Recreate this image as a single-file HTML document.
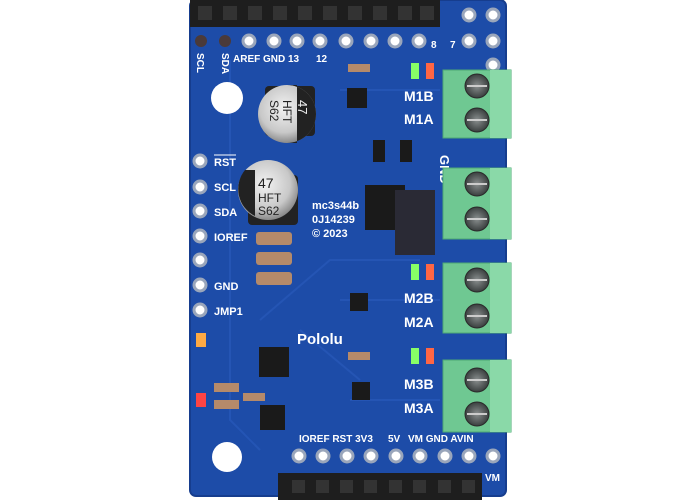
<!DOCTYPE html>
<html><head><style>
html,body{margin:0;padding:0;background:#fff;width:700px;height:500px;overflow:hidden}
text{font-family:"Liberation Sans",sans-serif;font-weight:bold;fill:#fff}
</style></head><body>
<svg width="700" height="500" viewBox="0 0 700 500">
<defs>
<radialGradient id="cap" cx="0.45" cy="0.4" r="0.6"><stop offset="0" stop-color="#f2f2f2"/><stop offset="0.7" stop-color="#c8c8c8"/><stop offset="1" stop-color="#8a8a8a"/></radialGradient>
<radialGradient id="scr" cx="0.5" cy="0.5" r="0.5"><stop offset="0" stop-color="#8a8f8f"/><stop offset="1" stop-color="#3a3f3f"/></radialGradient>
</defs>
<rect x="190" y="0" width="316" height="496" rx="6" fill="#1d4ca8"/>
<rect x="190" y="0" width="316" height="496" rx="6" fill="none" stroke="#163d8e" stroke-width="2"/>
<g stroke="#2758b8" stroke-width="2" fill="none" opacity="0.8">
<path d="M230 60 L230 420 L260 450"/><path d="M340 90 L440 90"/><path d="M340 300 L440 300"/><path d="M350 400 L440 400"/><path d="M260 320 L330 260 L420 260"/><path d="M300 330 L360 380"/>
</g>
<rect x="190" y="0" width="250" height="27" fill="#1e1e1e"/>
<g fill="#333">
<rect x="198" y="6" width="14" height="14"/><rect x="223" y="6" width="14" height="14"/><rect x="248" y="6" width="14" height="14"/><rect x="273" y="6" width="14" height="14"/><rect x="298" y="6" width="14" height="14"/><rect x="323" y="6" width="14" height="14"/><rect x="348" y="6" width="14" height="14"/><rect x="373" y="6" width="14" height="14"/><rect x="398" y="6" width="14" height="14"/><rect x="420" y="6" width="14" height="14"/>
</g>
<g fill="#fff" stroke="#9aa6bb" stroke-width="3">
<circle cx="249" cy="41" r="6"/><circle cx="274" cy="41" r="6"/><circle cx="297" cy="41" r="6"/><circle cx="320" cy="41" r="6"/><circle cx="346" cy="41" r="6"/><circle cx="371" cy="41" r="6"/><circle cx="395" cy="41" r="6"/><circle cx="419" cy="41" r="6"/><circle cx="469" cy="41" r="6"/><circle cx="493" cy="41" r="6"/><circle cx="469" cy="15" r="6"/><circle cx="493" cy="15" r="6"/><circle cx="493" cy="65" r="6"/>
</g>
<circle cx="201" cy="41" r="6" fill="#4a3a3a"/><circle cx="225" cy="41" r="6" fill="#4a3a3a"/>
<text x="0" y="0" font-size="10" transform="translate(197 53) rotate(90)">SCL</text>
<text x="0" y="0" font-size="10" transform="translate(222 53) rotate(90)">SDA</text>
<text x="233" y="62" font-size="10">AREF GND 13</text><text x="316" y="62" font-size="10">12</text>
<text x="431" y="48" font-size="10">8</text><text x="450" y="48" font-size="10">7</text>
<circle cx="227" cy="98" r="16" fill="#fff"/>
<rect x="265" y="86" width="50" height="50" fill="#222" rx="4"/>
<circle cx="287" cy="114" r="29" fill="url(#cap)"/>
<g transform="rotate(90 287 114)">
<path d="M258 114 A29 29 0 0 1 316 114 L316 104 L258 104 Z" fill="#222" transform="rotate(0)"/>
<text x="273" y="103" font-size="13" style="fill:#eee;font-weight:normal">47</text>
<text x="273" y="118" font-size="12" style="fill:#222;font-weight:normal">HFT</text>
<text x="273" y="131" font-size="12" style="fill:#222;font-weight:normal">S62</text>
</g>
<rect x="248" y="175" width="50" height="50" fill="#222" rx="4"/>
<circle cx="268" cy="190" r="30" fill="url(#cap)"/>
<path d="M245 170 A30 30 0 0 0 255 216 L255 170 Z" fill="#222"/>
<text x="258" y="188" font-size="14" style="fill:#222;font-weight:normal">47</text>
<text x="258" y="202" font-size="12" style="fill:#222;font-weight:normal">HFT</text>
<text x="258" y="215" font-size="12" style="fill:#222;font-weight:normal">S62</text>
<g fill="#fff" stroke="#9aa6bb" stroke-width="3">
<circle cx="200" cy="161" r="6"/><circle cx="200" cy="187" r="6"/><circle cx="200" cy="211" r="6"/><circle cx="200" cy="236" r="6"/><circle cx="200" cy="260" r="6"/><circle cx="200" cy="285" r="6"/><circle cx="200" cy="310" r="6"/>
</g>
<g font-size="11"><text x="214" y="166">RST</text><text x="214" y="191">SCL</text><text x="214" y="216">SDA</text><text x="214" y="241">IOREF</text><text x="214" y="290">GND</text><text x="214" y="315">JMP1</text></g>
<line x1="214" y1="155" x2="236" y2="155" stroke="#fff" stroke-width="1"/>
<g fill="#b58a6a"><rect x="256" y="232" width="36" height="13" rx="3"/><rect x="256" y="252" width="36" height="13" rx="3"/><rect x="256" y="272" width="36" height="13" rx="3"/><rect x="348" y="64" width="22" height="8"/><rect x="348" y="352" width="22" height="8"/><rect x="214" y="383" width="25" height="9"/><rect x="214" y="400" width="25" height="9"/><rect x="243" y="393" width="22" height="8"/></g>
<g fill="#1a1a1a">
<rect x="347" y="88" width="20" height="20"/><rect x="350" y="293" width="18" height="18"/><rect x="352" y="382" width="18" height="18"/><rect x="259" y="347" width="30" height="30"/>
<rect x="365" y="185" width="40" height="45"/><rect x="373" y="140" width="12" height="22"/><rect x="400" y="140" width="12" height="22"/><rect x="260" y="405" width="25" height="25"/>
<rect x="395" y="190" width="40" height="65" fill="#2a2a35"/>
</g>
<g font-size="11"><text x="312" y="209">mc3s44b</text><text x="312" y="223">0J14239</text><text x="312" y="237">© 2023</text></g>
<text x="297" y="344" font-size="15">Pololu</text>
<g><rect x="411" y="63" width="8" height="16" fill="#8f6"/><rect x="426" y="63" width="8" height="16" fill="#f64"/>
<rect x="411" y="264" width="8" height="16" fill="#8f6"/><rect x="426" y="264" width="8" height="16" fill="#f64"/>
<rect x="411" y="348" width="8" height="16" fill="#8f6"/><rect x="426" y="348" width="8" height="16" fill="#f64"/>
<rect x="196" y="333" width="10" height="14" fill="#fa4"/><rect x="196" y="393" width="10" height="14" fill="#f44"/></g>
<g font-size="14"><text x="404" y="101">M1B</text><text x="404" y="124">M1A</text><text x="404" y="303">M2B</text><text x="404" y="327">M2A</text><text x="404" y="389">M3B</text><text x="404" y="413">M3A</text></g>
<text x="0" y="0" font-size="13" transform="translate(440 155) rotate(90)">GND</text>
<g fill="#6fc892" stroke="#4da874" stroke-width="1">
<rect x="443" y="70" width="68" height="68"/><rect x="443" y="168" width="68" height="71"/><rect x="443" y="263" width="68" height="70"/><rect x="443" y="360" width="68" height="72"/>
</g>
<g fill="#8ad9a8"><rect x="490" y="70" width="21" height="68"/><rect x="490" y="168" width="21" height="71"/><rect x="490" y="263" width="21" height="70"/><rect x="490" y="360" width="21" height="72"/></g>
<g fill="url(#scr)" stroke="#2a2a2a">
<circle cx="477" cy="86" r="12"/><circle cx="477" cy="120" r="12"/><circle cx="477" cy="184" r="12"/><circle cx="477" cy="219" r="12"/><circle cx="477" cy="280" r="12"/><circle cx="477" cy="316" r="12"/><circle cx="477" cy="380" r="12"/><circle cx="477" cy="414" r="12"/>
</g>
<g stroke="#ccc" stroke-width="2"><path d="M467 86h20M467 120h20M467 184h20M467 219h20M467 280h20M467 316h20M467 380h20M467 414h20"/></g>
<g font-size="10"><text x="299" y="442">IOREF RST 3V3</text><text x="388" y="442">5V</text><text x="408" y="442">VM GND AVIN</text><text x="485" y="481">VM</text></g>
<g fill="#fff" stroke="#9aa6bb" stroke-width="3">
<circle cx="299" cy="456" r="6"/><circle cx="323" cy="456" r="6"/><circle cx="347" cy="456" r="6"/><circle cx="371" cy="456" r="6"/><circle cx="396" cy="456" r="6"/><circle cx="420" cy="456" r="6"/><circle cx="445" cy="456" r="6"/><circle cx="469" cy="456" r="6"/><circle cx="493" cy="456" r="6"/>
</g>
<circle cx="227" cy="457" r="15" fill="#fff"/>
<rect x="278" y="473" width="204" height="27" fill="#1e1e1e"/>
<g fill="#333"><rect x="292" y="480" width="13" height="13"/><rect x="316" y="480" width="13" height="13"/><rect x="340" y="480" width="13" height="13"/><rect x="364" y="480" width="13" height="13"/><rect x="389" y="480" width="13" height="13"/><rect x="413" y="480" width="13" height="13"/><rect x="438" y="480" width="13" height="13"/><rect x="462" y="480" width="13" height="13"/></g>
</svg>
</body></html>
